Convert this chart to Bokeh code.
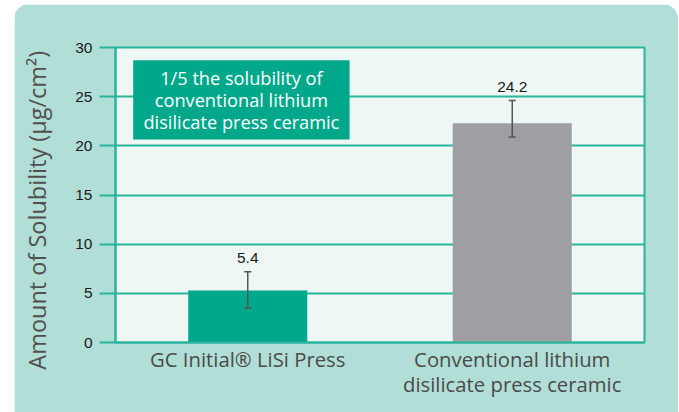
from bokeh.plotting import figure
from bokeh.models import Range1d, FactorRange, ColumnDataSource, Whisker, TeeHead, FixedTicker
from bokeh.core.properties import value
from bokeh.embed import file_html
from bokeh.resources import INLINE

# ---- data ----
categories = ["GC Initial\u00ae LiSi Press", "Conventional lithium\ndisilicate press ceramic"]
values = [5.3, 22.3]
err_upper = [7.2, 24.6]
err_lower = [3.5, 20.9]
value_labels = ["5.4", "24.2"]
bar_colors = ["#00a88b", "#9e9fa3"]
y_ticks = [0, 5, 10, 15, 20, 25, 30]
note_text = "1/5 the solubility of\nconventional lithium\ndisilicate press ceramic"
y_label = "Amount of Solubility (\u00b5g/cm\u00b2)"

PANEL = "#b1dfd7"
INNER = "#eef7f4"
TEAL = "#2ab49e"
GREEN = "#00a88b"
SANS = "Open Sans"

src = ColumnDataSource(dict(cat=categories, val=values, up=err_upper, lo=err_lower,
                            lab=value_labels, color=bar_colors))

p = figure(x_range=FactorRange(*categories), y_range=Range1d(0, 30),
           width=664, height=408, output_backend="svg", toolbar_location=None,
           min_border_left=101, min_border_right=34, min_border_top=43, min_border_bottom=70)
p.styles = {"margin-left": "14px", "margin-top": "4px",
            "border-radius": "15px 15px 0 0", "overflow": "hidden"}

p.border_fill_color = PANEL
p.background_fill_color = INNER
p.outline_line_color = TEAL
p.outline_line_width = 2

p.xgrid.grid_line_color = None
p.ygrid.grid_line_color = TEAL
p.ygrid.grid_line_width = 2
p.ygrid.ticker = FixedTicker(ticks=y_ticks)

# bars
p.vbar(x="cat", top="val", width=0.45, fill_color="color", line_color=None, source=src)

# error bars
w = Whisker(base="cat", upper="up", lower="lo", source=src, line_color="#555555", line_width=1.5,
            upper_head=TeeHead(size=7, line_color="#555555", line_width=1.5),
            lower_head=TeeHead(size=7, line_color="#555555", line_width=1.5),
            level="overlay")
p.add_layout(w)

# value labels
p.text(x="cat", y="up", text="lab", source=src, text_align="center", text_baseline="alphabetic",
       y_offset=-14, text_font=value("Liberation Sans"), text_font_size="15.5px", text_color="#1a1a1a")

# note box
NOTE_LEFT, NOTE_RIGHT, NOTE_BOTTOM, NOTE_TOP = 0.067, 0.885, 20.65, 28.7
p.quad(left=[NOTE_LEFT], right=[NOTE_RIGHT], bottom=[NOTE_BOTTOM], top=[NOTE_TOP],
       fill_color=GREEN, line_color=None)
p.text(x=[(NOTE_LEFT + NOTE_RIGHT) / 2], y=[(NOTE_BOTTOM + NOTE_TOP) / 2], text=[note_text],
       text_align="center", text_baseline="middle", text_line_height=0.91,
       text_font=value(SANS), text_font_size="18.2px", text_color="white")

# axes
ya = p.yaxis[0]
ya.ticker = FixedTicker(ticks=y_ticks)
ya.axis_line_color = TEAL
ya.axis_line_width = 2
ya.major_tick_line_color = TEAL
ya.major_tick_line_width = 2
ya.major_tick_out = 16
ya.major_tick_in = 0
ya.minor_tick_line_color = None
ya.major_label_standoff = 7
ya.major_label_text_font = "Liberation Sans"
ya.major_label_text_font_size = "15.5px"
ya.major_label_text_color = "#1a1a1a"
# trailing no-break spaces nudge the centred title slightly downward, as in the original
ya.axis_label = y_label + "\u00a0" * 5
ya.axis_label_text_font = SANS
ya.axis_label_text_font_style = "normal"
ya.axis_label_text_font_size = "23.5px"
ya.axis_label_text_color = "#505050"
ya.axis_label_standoff = 19

xa = p.xaxis[0]
xa.axis_line_color = TEAL
xa.axis_line_width = 2
xa.major_tick_line_color = None
xa.minor_tick_line_color = None
xa.major_tick_out = 0
xa.major_tick_in = 0
xa.major_label_standoff = 2
xa.major_label_text_font = SANS
xa.major_label_text_font_size = "20.3px"
xa.major_label_text_line_height = 0.92
xa.major_label_text_color = "#4a4a4a"

open("out.html", "w").write(file_html(p, INLINE))
